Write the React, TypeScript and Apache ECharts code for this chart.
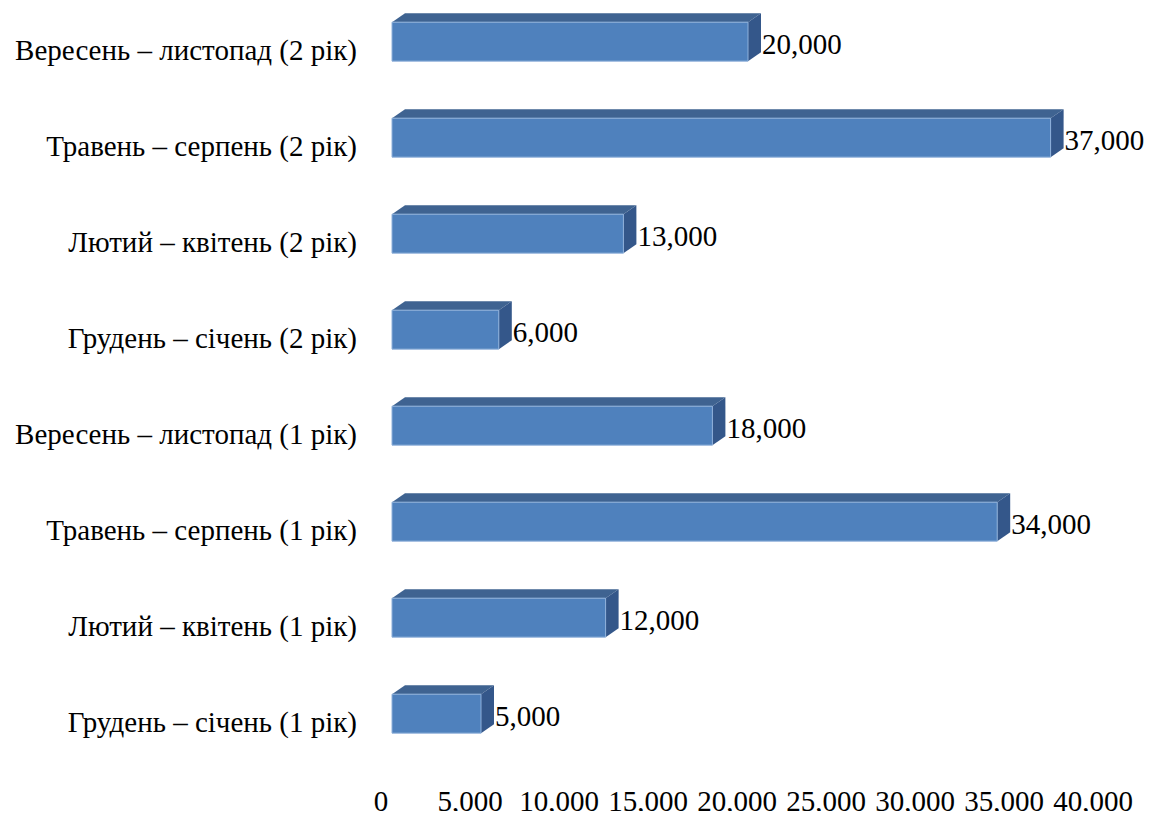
import React, { useEffect, useRef } from "react";
import * as echarts from "echarts";

const categories = [
  "Грудень – січень (1 рік)",
  "Лютий – квітень (1 рік)",
  "Травень – серпень (1 рік)",
  "Вересень – листопад (1 рік)",
  "Грудень – січень (2 рік)",
  "Лютий – квітень (2 рік)",
  "Травень – серпень (2 рік)",
  "Вересень – листопад (2 рік)",
];
const values = [5000, 12000, 34000, 18000, 6000, 13000, 37000, 20000];
const xTicks = { min: 0, max: 40000, interval: 5000 };

const FONT = "'Liberation Serif', serif";
const fmt = (v: number) => v.toLocaleString("en-US");

export default function App() {
  const ref = useRef<HTMLDivElement>(null);
  useEffect(() => {
    if (!ref.current) return;
    const chart = echarts.init(ref.current, undefined, { renderer: "svg" });
    const SHIFT = 11;
    const DX = 13;
    const DY = 9;
    chart.setOption({
      animation: false,
      grid: { left: 381, right: 60, top: 2, bottom: 49, containLabel: false },
      xAxis: {
        type: "value",
        min: xTicks.min,
        max: xTicks.max,
        interval: xTicks.interval,
        axisLine: { show: false },
        axisTick: { show: false },
        splitLine: { show: false },
        axisLabel: {
          color: "#000",
          fontFamily: FONT,
          fontSize: 29,
          margin: 16,
          formatter: (v: number) => fmt(v),
        },
      },
      yAxis: {
        type: "category",
        data: categories,
        axisLine: { show: false },
        axisTick: { show: false },
        axisLabel: {
          color: "#000",
          fontFamily: FONT,
          fontSize: 29,
          margin: 24,
        },
      },
      series: [
        {
          type: "custom",
          data: values.map((v, i) => [v, i]),
          encode: { x: 0, y: 1 },
          renderItem: (params: any, api: any) => {
            const v = api.value(0);
            const c = api.value(1);
            const p0 = api.coord([0, c]);
            const p1 = api.coord([v, c]);
            const band = api.size([0, 1])[1];
            const x0 = p0[0] + SHIFT;
            const x1 = p1[0] + SHIFT;
            const top = p0[1] - band * 0.29;
            const h = band * 0.406;
            const bottom = top + h;
            return {
              type: "group",
              children: [
                {
                  type: "polygon",
                  shape: {
                    points: [
                      [x0, top],
                      [x0 + DX, top - DY],
                      [x1 + DX, top - DY],
                      [x1, top],
                    ],
                  },
                  style: { fill: "#3F6391" },
                },
                {
                  type: "polygon",
                  shape: {
                    points: [
                      [x1, top],
                      [x1 + DX, top - DY],
                      [x1 + DX, bottom - DY],
                      [x1, bottom],
                    ],
                  },
                  style: { fill: "#34578A" },
                },
                {
                  type: "rect",
                  shape: { x: x0, y: top, width: x1 - x0, height: h },
                  style: { fill: "#4F81BD", stroke: "#8EB0DA", lineWidth: 1 },
                },
                {
                  type: "text",
                  x: x1 + DX + 1,
                  y: top + h / 2 + 2,
                  style: {
                    text: fmt(v),
                    fill: "#000",
                    fontFamily: FONT,
                    fontSize: 29,
                    verticalAlign: "middle",
                    align: "left",
                  },
                },
              ],
            };
          },
        },
      ],
    });
    return () => chart.dispose();
  }, []);
  return <div ref={ref} style={{ width: 1153, height: 819, margin: -8 }} />;
}
